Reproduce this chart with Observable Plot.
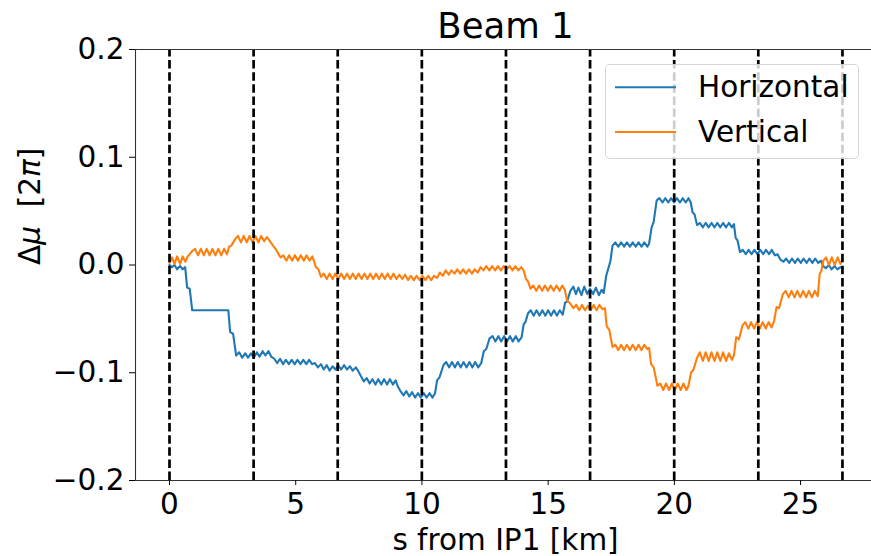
<!DOCTYPE html>
<html>
<head>
<meta charset="utf-8">
<script src="https://cdn.jsdelivr.net/npm/d3@7"></script>
<script src="https://cdn.jsdelivr.net/npm/@observablehq/plot@0.6"></script>
<style>
  html, body { margin: 0; padding: 0; background: white; }
  #wrap { position: relative; width: 871px; height: 556px; overflow: hidden; font-family: 'DejaVu Sans', sans-serif; }
  #legend { position: absolute; left: 605px; top: 64px; width: 254px; height: 95px; box-sizing: border-box;
            border: 1px solid rgba(204,204,204,0.8); border-radius: 5px; background: rgba(255,255,255,0.8); }
  #legend svg { position: absolute; left: -1px; top: -1px; overflow: visible; }
</style>
</head>
<body>
<div id="wrap"></div>
<script>
// ---- Data ----
const titleText = "Beam 1";
const xLabel = "s from IP1 [km]";
const yLabel = "Δμ  [2π]";
const seriesNames = ["Horizontal", "Vertical"];
const seriesColors = ["#1f77b4", "#ff7f0e"];
const xTicks = [0, 5, 10, 15, 20, 25];
const yTicks = [-0.2, -0.1, 0, 0.1, 0.2];
const yTickLabels = ["−0.2", "−0.1", "0.0", "0.1", "0.2"];
const xDomain = [-1.347, 27.81];
const yDomain = [-0.2, 0.2];
// IP positions (km)
const ipPositions = [0, 3.332, 6.664, 9.997, 13.329, 16.661, 19.994, 23.326, 26.659];

// Horizontal phase advance difference [s (km), Δμ (2π)]
const horizontal = [
  [0,0],[0.1,-0.002],[0.2,0.000],[0.3,-0.004],[0.42,-0.001],[0.52,-0.004],[0.62,-0.002],[0.7,-0.021],[0.8,-0.022],[0.9,-0.042],
  [2.33,-0.042],[2.4,-0.062],[2.52,-0.064],[2.64,-0.084],
  [2.76,-0.081],[2.88,-0.086],[3.0,-0.082],[3.11,-0.086],[3.23,-0.082],[3.34,-0.086],[3.46,-0.081],[3.57,-0.085],[3.69,-0.080],[3.8,-0.084],[3.92,-0.080],[4.03,-0.085],
  [4.15,-0.087],[4.27,-0.091],[4.38,-0.087],[4.5,-0.092],[4.61,-0.088],[4.73,-0.092],[4.84,-0.088],[4.96,-0.092],[5.07,-0.088],[5.19,-0.092],[5.3,-0.088],[5.42,-0.092],[5.53,-0.088],[5.65,-0.092],
  [5.76,-0.091],[5.88,-0.095],[6.0,-0.092],[6.11,-0.097],[6.23,-0.093],[6.34,-0.098],[6.46,-0.094],[6.57,-0.097],[6.69,-0.093],[6.8,-0.097],[6.92,-0.093],[7.03,-0.097],[7.15,-0.094],[7.26,-0.098],[7.38,-0.095],[7.49,-0.099],
  [7.58,-0.103],[7.7,-0.108],
  [7.81,-0.105],[7.93,-0.110],[8.04,-0.106],[8.16,-0.111],[8.27,-0.106],[8.39,-0.111],[8.5,-0.106],[8.62,-0.111],[8.73,-0.106],[8.85,-0.111],[8.96,-0.107],
  [9.05,-0.113],[9.15,-0.117],
  [9.27,-0.121],[9.38,-0.117],[9.5,-0.122],[9.61,-0.118],[9.73,-0.123],[9.84,-0.119],[9.96,-0.123],[10.07,-0.119],[10.19,-0.123],[10.3,-0.119],[10.42,-0.123],[10.52,-0.119],
  [10.6,-0.107],[10.7,-0.104],[10.85,-0.093],
  [10.96,-0.090],[11.08,-0.095],[11.19,-0.090],[11.31,-0.095],[11.42,-0.090],[11.54,-0.095],[11.65,-0.090],[11.77,-0.095],[11.88,-0.090],[12.0,-0.095],[12.11,-0.090],[12.23,-0.095],[12.35,-0.091],
  [12.45,-0.080],[12.55,-0.078],[12.68,-0.068],
  [12.8,-0.066],[12.91,-0.071],[13.03,-0.066],[13.14,-0.071],[13.26,-0.066],[13.37,-0.071],[13.49,-0.066],[13.6,-0.071],[13.72,-0.066],[13.83,-0.071],[13.95,-0.067],
  [14.03,-0.055],[14.1,-0.053],[14.2,-0.045],
  [14.31,-0.042],[14.43,-0.047],[14.54,-0.042],[14.66,-0.047],[14.77,-0.042],[14.89,-0.047],[15.0,-0.042],[15.12,-0.047],[15.23,-0.042],[15.35,-0.047],[15.46,-0.042],[15.58,-0.046],
  [15.67,-0.035],[15.75,-0.034],[15.88,-0.024],
  [16.0,-0.020],[16.1,-0.027],[16.2,-0.021],[16.32,-0.028],[16.43,-0.020],[16.55,-0.027],[16.66,-0.022],[16.78,-0.027],[16.89,-0.021],[17.01,-0.028],[17.12,-0.023],[17.2,-0.026],
  [17.3,-0.010],[17.4,-0.002],[17.47,0.004],[17.55,0.018],
  [17.66,0.021],[17.78,0.017],[17.89,0.021],[18.01,0.017],[18.12,0.021],[18.24,0.017],[18.35,0.021],[18.47,0.017],[18.58,0.021],[18.7,0.017],[18.81,0.021],[18.93,0.017],
  [19.0,0.020],[19.1,0.035],[19.18,0.040],[19.3,0.060],
  [19.41,0.062],[19.53,0.058],[19.64,0.062],[19.76,0.058],[19.87,0.062],[19.99,0.058],[20.1,0.062],[20.22,0.058],[20.33,0.062],[20.45,0.058],[20.56,0.062],
  [20.65,0.058],[20.72,0.049],[20.8,0.047],[20.9,0.037],
  [21.01,0.039],[21.13,0.035],[21.24,0.039],[21.36,0.035],[21.47,0.039],[21.59,0.035],[21.7,0.039],[21.82,0.035],[21.93,0.039],[22.05,0.035],[22.16,0.039],[22.28,0.035],[22.36,0.038],
  [22.43,0.025],[22.5,0.023],[22.6,0.012],
  [22.71,0.014],[22.83,0.010],[22.94,0.014],[23.06,0.010],[23.17,0.014],[23.29,0.010],[23.4,0.014],[23.52,0.010],[23.63,0.014],[23.75,0.010],[23.86,0.014],
  [23.98,0.009],[24.09,0.010],[24.2,0.005],[24.32,0.003],
  [24.43,0.006],[24.55,0.002],[24.66,0.006],[24.78,0.002],[24.89,0.006],[25.01,0.002],[25.12,0.006],[25.24,0.002],[25.35,0.006],[25.47,0.002],[25.58,0.006],[25.7,0.002],[25.8,0.004],
  [25.9,-0.001],[26.0,-0.003],[26.12,0.000],[26.23,-0.004],[26.35,-0.001],[26.46,-0.004],[26.58,-0.002],[26.66,-0.003]
];

// Vertical phase advance difference [s (km), Δμ (2π)]
const vertical = [
  [0,0.002],[0.1,0.007],[0.2,0.001],[0.3,0.008],[0.42,0.001],[0.52,0.008],[0.63,0.003],[0.72,0.008],[0.8,0.010],[0.9,0.013],
  [1.01,0.015],[1.13,0.009],[1.24,0.015],[1.36,0.009],[1.47,0.015],[1.59,0.009],[1.7,0.015],[1.82,0.009],[1.93,0.015],[2.05,0.009],[2.16,0.015],[2.28,0.010],
  [2.36,0.017],[2.45,0.018],[2.6,0.024],
  [2.71,0.027],[2.83,0.021],[2.94,0.027],[3.06,0.021],[3.17,0.027],[3.29,0.021],[3.4,0.027],[3.52,0.021],[3.63,0.027],[3.75,0.022],[3.86,0.026],
  [3.95,0.023],[4.1,0.018],[4.2,0.015],[4.4,0.007],
  [4.51,0.009],[4.63,0.004],[4.74,0.009],[4.86,0.004],[4.97,0.009],[5.09,0.004],[5.2,0.009],[5.32,0.004],[5.43,0.009],[5.55,0.004],[5.66,0.008],
  [5.8,-0.002],[5.9,-0.004],[6.0,-0.011],
  [6.11,-0.008],[6.23,-0.013],[6.34,-0.008],[6.46,-0.013],[6.57,-0.008],[6.69,-0.013],[6.8,-0.008],[6.92,-0.013],[7.03,-0.008],[7.15,-0.013],[7.26,-0.008],[7.38,-0.013],[7.49,-0.008],[7.61,-0.013],[7.72,-0.008],[7.84,-0.013],[7.95,-0.008],[8.07,-0.013],[8.18,-0.008],[8.3,-0.013],[8.41,-0.008],[8.53,-0.013],[8.64,-0.008],[8.76,-0.013],[8.87,-0.008],[8.99,-0.013],[9.1,-0.009],[9.22,-0.013],[9.33,-0.009],[9.45,-0.014],[9.56,-0.010],[9.68,-0.014],[9.79,-0.010],[9.91,-0.014],[10.02,-0.010],[10.14,-0.014],[10.25,-0.010],[10.37,-0.014],[10.48,-0.010],
  [10.6,-0.012],[10.71,-0.007],[10.83,-0.010],[10.94,-0.005],[11.06,-0.009],[11.17,-0.005],[11.29,-0.008],[11.4,-0.004],[11.52,-0.008],[11.63,-0.004],[11.75,-0.008],[11.86,-0.004],[11.98,-0.008],[12.09,-0.004],[12.21,-0.007],[12.32,-0.002],[12.44,-0.005],[12.55,-0.001],[12.67,-0.005],[12.78,-0.001],[12.9,-0.005],[13.01,-0.001],[13.13,-0.005],[13.24,-0.001],[13.36,-0.004],[13.47,-0.001],[13.59,-0.005],[13.7,-0.001],[13.82,-0.005],[13.93,-0.002],
  [14.03,-0.005],[14.12,-0.013],[14.2,-0.015],[14.3,-0.022],
  [14.41,-0.019],[14.53,-0.024],[14.64,-0.019],[14.76,-0.024],[14.87,-0.019],[14.99,-0.024],[15.1,-0.019],[15.22,-0.024],[15.33,-0.019],[15.45,-0.024],[15.56,-0.019],[15.66,-0.023],
  [15.75,-0.033],[15.85,-0.035],[16.0,-0.040],
  [16.11,-0.037],[16.23,-0.042],[16.34,-0.037],[16.46,-0.042],[16.57,-0.038],[16.69,-0.042],[16.8,-0.037],[16.92,-0.042],[17.03,-0.037],[17.15,-0.041],[17.25,-0.040],
  [17.32,-0.057],[17.42,-0.060],[17.55,-0.076],
  [17.66,-0.074],[17.78,-0.079],[17.89,-0.074],[18.01,-0.079],[18.12,-0.074],[18.24,-0.079],[18.35,-0.074],[18.47,-0.079],[18.58,-0.074],[18.7,-0.079],[18.81,-0.074],[18.93,-0.078],
  [19.0,-0.077],[19.08,-0.092],[19.18,-0.095],[19.33,-0.112],
  [19.44,-0.110],[19.56,-0.116],[19.67,-0.110],[19.79,-0.116],[19.9,-0.110],[20.02,-0.116],[20.13,-0.110],[20.25,-0.116],[20.36,-0.110],[20.48,-0.116],[20.56,-0.112],
  [20.66,-0.100],[20.76,-0.097],[20.9,-0.086],
  [21.01,-0.081],[21.13,-0.089],[21.24,-0.081],[21.36,-0.089],[21.47,-0.081],[21.59,-0.089],[21.7,-0.081],[21.82,-0.089],[21.93,-0.081],[22.05,-0.089],[22.16,-0.082],[22.28,-0.088],[22.36,-0.084],
  [22.45,-0.067],[22.56,-0.069],[22.7,-0.056],
  [22.81,-0.053],[22.93,-0.059],[23.04,-0.053],[23.16,-0.059],[23.27,-0.053],[23.39,-0.059],[23.5,-0.053],[23.62,-0.059],[23.73,-0.053],[23.85,-0.058],
  [23.95,-0.052],[24.05,-0.039],[24.15,-0.040],[24.3,-0.027],
  [24.41,-0.024],[24.53,-0.030],[24.64,-0.024],[24.76,-0.030],[24.87,-0.024],[24.99,-0.030],[25.1,-0.024],[25.22,-0.030],[25.33,-0.024],[25.45,-0.030],[25.56,-0.024],[25.68,-0.029],
  [25.76,-0.008],[25.82,-0.006],[25.9,0.004],
  [26.01,0.007],[26.12,0.000],[26.24,0.007],[26.35,0.000],[26.47,0.007],[26.58,0.001],[26.66,0.005]
];

// ---- Chart ----
const FONT = "'DejaVu Sans', sans-serif";
const chart = Plot.plot({
  width: 871,
  height: 556,
  marginLeft: 135,
  marginRight: 0,
  marginTop: 49,
  marginBottom: 76,
  style: { fontFamily: FONT, fontSize: "29.5px", color: "black", background: "white", overflow: "visible" },
  x: { domain: xDomain },
  y: { domain: yDomain },
  marks: [
    Plot.line(horizontal, { x: d => d[0], y: d => d[1], stroke: seriesColors[0], strokeWidth: 2.1 }),
    Plot.line(vertical, { x: d => d[0], y: d => d[1], stroke: seriesColors[1], strokeWidth: 2.1 }),
    Plot.ruleX(ipPositions, { y1: yDomain[0], y2: yDomain[1], stroke: "black", strokeWidth: 2.7, strokeDasharray: "8.5,3.6" }),
    Plot.ruleX([xDomain[0]], { stroke: "#333", strokeWidth: 1.1 }),
    Plot.ruleY(yDomain, { stroke: "#333", strokeWidth: 1.1 }),
    Plot.axisX(xTicks, { tickSize: 5, tickPadding: 8, fontSize: 29.5, label: null, tickFormat: d => String(d) }),
    Plot.axisY(yTicks, { tickSize: 6, tickPadding: 5, fontSize: 29.5, label: null,
      tickFormat: d => yTickLabels[yTicks.indexOf(d)] }),
    Plot.text([titleText], { frameAnchor: "top", lineAnchor: "bottom", dy: -11.3, dx: 2, fontSize: 35.5 }),
    Plot.text([xLabel], { frameAnchor: "bottom", lineAnchor: "bottom", dy: 69, dx: 2, fontSize: 29.5 }),
    Plot.text([yLabel], { frameAnchor: "left", rotate: -90, dx: -105, fontSize: 29.5 })
  ]
});
document.getElementById("wrap").appendChild(chart);

// Mathtext-style y label: italic μ and π
d3.select(chart).selectAll("text").each(function () {
  if (this.textContent === yLabel) {
    const t = d3.select(this);
    t.text(null).attr("xml:space", "preserve").style("white-space", "pre");
    const parts = [["Δ", "normal"], ["μ", "italic"], ["  [2", "normal"], ["π", "italic"], ["]", "normal"]];
    parts.forEach(([s, st]) => t.append("tspan").style("font-style", st).text(s));
  }
});

// Legend
const legend = d3.select("#wrap").append("div").attr("id", "legend");
const lsvg = legend.append("svg").attr("width", 254).attr("height", 95);
seriesNames.forEach((name, i) => {
  const cy = 23.3 + i * 44.7;
  lsvg.append("line").attr("x1", 10).attr("x2", 71).attr("y1", cy).attr("y2", cy)
    .attr("stroke", seriesColors[i]).attr("stroke-width", 2);
  lsvg.append("text").attr("x", 93).attr("y", cy + 9.5)
    .attr("font-family", FONT).attr("font-size", 29.5).attr("fill", "black").text(name);
});
</script>
</body>
</html>
